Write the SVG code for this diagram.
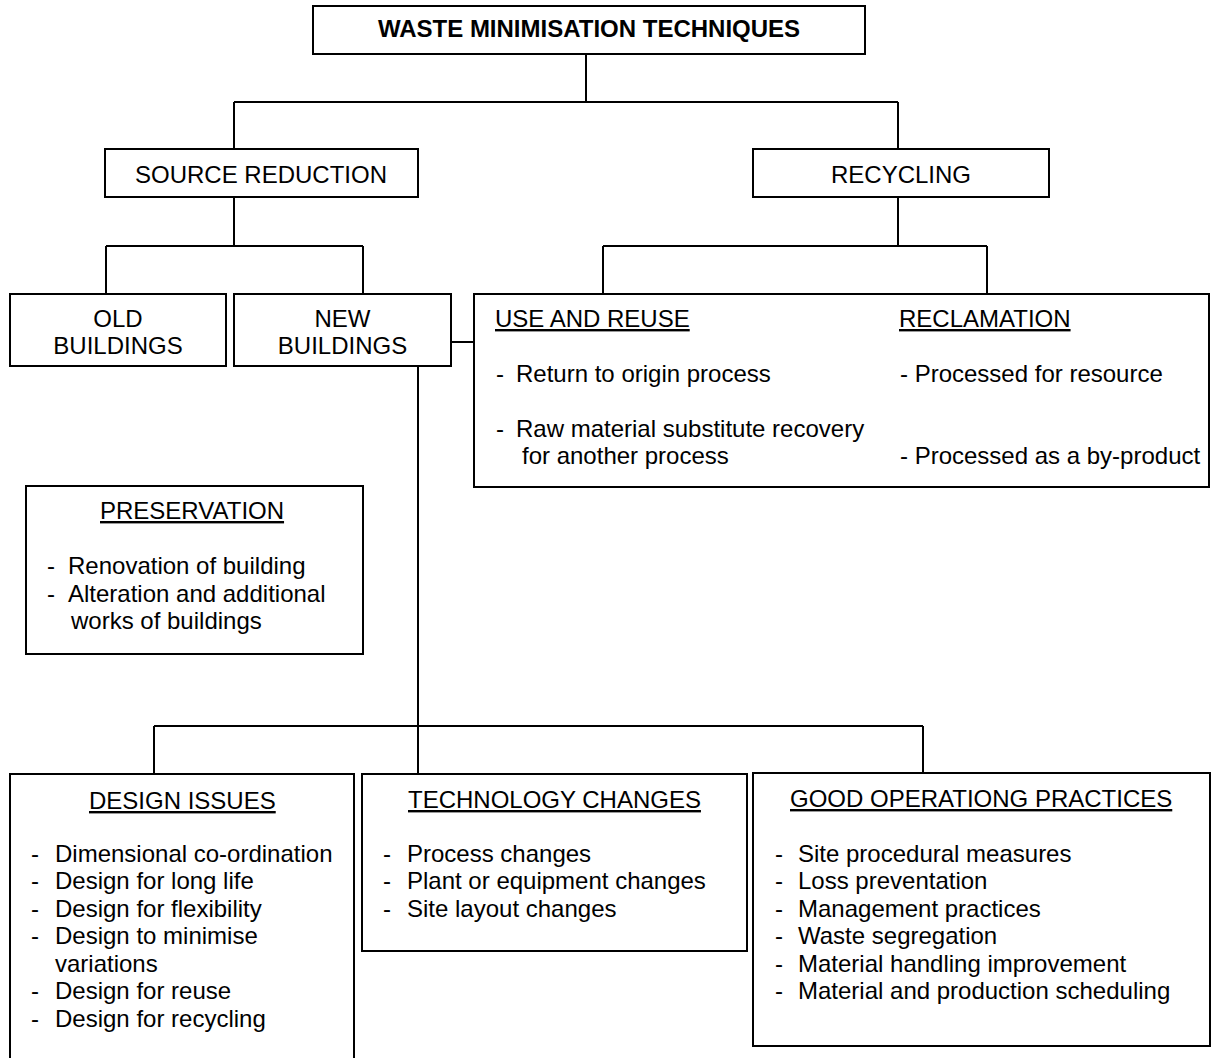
<svg xmlns="http://www.w3.org/2000/svg" width="1212" height="1058" viewBox="0 0 1212 1058">
<style>
text{font-family:"Liberation Sans",Arial,sans-serif;font-size:24px;fill:#000}
.b{font-weight:bold}
.m{text-anchor:middle}
.u{text-decoration:underline}
rect{fill:#fff;stroke:#000;stroke-width:2}
.c path{fill:none;stroke:#000;stroke-width:2}
</style>
<rect x="0" y="0" width="1212" height="1058" style="stroke:none"/>
<g class="c" id="connectors">
<path d="M586 54V102M234 102H898M234 102V149M898 102V149"/>
<path d="M234 197V246M106 246H363M106 246V294M363 246V294"/>
<path d="M898 197V246M603 246H987M603 246V294M987 246V294"/>
<path d="M451 342H474"/>
<path d="M418 366V774M154 726H923M154 726V774M923 726V773"/>
</g>
<g id="title"><rect x="313" y="6" width="552" height="48"/><text class="b m" x="589" y="37">WASTE MINIMISATION TECHNIQUES</text></g>
<g id="source"><rect x="105" y="149" width="313" height="48"/><text class="m" x="261" y="183">SOURCE REDUCTION</text></g>
<g id="recycling"><rect x="753" y="149" width="296" height="48"/><text class="m" x="901" y="183">RECYCLING</text></g>
<g id="old"><rect x="10" y="294" width="216" height="72"/><text class="m" x="118" y="327">OLD</text><text class="m" x="118" y="354">BUILDINGS</text></g>
<g id="new"><rect x="234" y="294" width="217" height="72"/><text class="m" x="342.5" y="327">NEW</text><text class="m" x="342.5" y="354">BUILDINGS</text></g>
<g id="reuse">
<rect x="474" y="294" width="735" height="193"/>
<text class="u" x="495" y="327">USE AND REUSE</text>
<text class="u" x="899" y="327">RECLAMATION</text>
<text x="496" y="382">-</text><text x="516" y="382">Return to origin process</text>
<text x="496" y="437">-</text><text x="516" y="437">Raw material substitute recovery</text>
<text x="522" y="464">for another process</text>
<text x="900" y="382">- Processed for resource</text>
<text x="900" y="464">- Processed as a by-product</text>
</g>
<g id="preservation">
<rect x="26" y="486" width="337" height="168"/>
<text class="u" x="100" y="519">PRESERVATION</text>
<text x="47" y="574">-</text><text x="68" y="574">Renovation of building</text>
<text x="47" y="602">-</text><text x="68" y="602">Alteration and additional</text>
<text x="71" y="629">works of buildings</text>
</g>
<g id="design">
<rect x="10" y="774" width="344" height="300"/>
<text class="u" x="89" y="809">DESIGN ISSUES</text>
<text x="31" y="862">-</text><text x="55" y="862">Dimensional co-ordination</text>
<text x="31" y="889">-</text><text x="55" y="889">Design for long life</text>
<text x="31" y="917">-</text><text x="55" y="917">Design for flexibility</text>
<text x="31" y="944">-</text><text x="55" y="944">Design to minimise</text>
<text x="55" y="972">variations</text>
<text x="31" y="999">-</text><text x="55" y="999">Design for reuse</text>
<text x="31" y="1027">-</text><text x="55" y="1027">Design for recycling</text>
</g>
<g id="technology">
<rect x="362" y="774" width="385" height="177"/>
<text class="u" x="408" y="808">TECHNOLOGY CHANGES</text>
<text x="383" y="862">-</text><text x="407" y="862">Process changes</text>
<text x="383" y="889">-</text><text x="407" y="889">Plant or equipment changes</text>
<text x="383" y="917">-</text><text x="407" y="917">Site layout changes</text>
</g>
<g id="good">
<rect x="753" y="773" width="457" height="273"/>
<text class="u" x="790" y="807">GOOD OPERATIONG PRACTICES</text>
<text x="775" y="862">-</text><text x="798" y="862">Site procedural measures</text>
<text x="775" y="889">-</text><text x="798" y="889">Loss preventation</text>
<text x="775" y="917">-</text><text x="798" y="917">Management practices</text>
<text x="775" y="944">-</text><text x="798" y="944">Waste segregation</text>
<text x="775" y="972">-</text><text x="798" y="972">Material handling improvement</text>
<text x="775" y="999">-</text><text x="798" y="999">Material and production scheduling</text>
</g>
</svg>
